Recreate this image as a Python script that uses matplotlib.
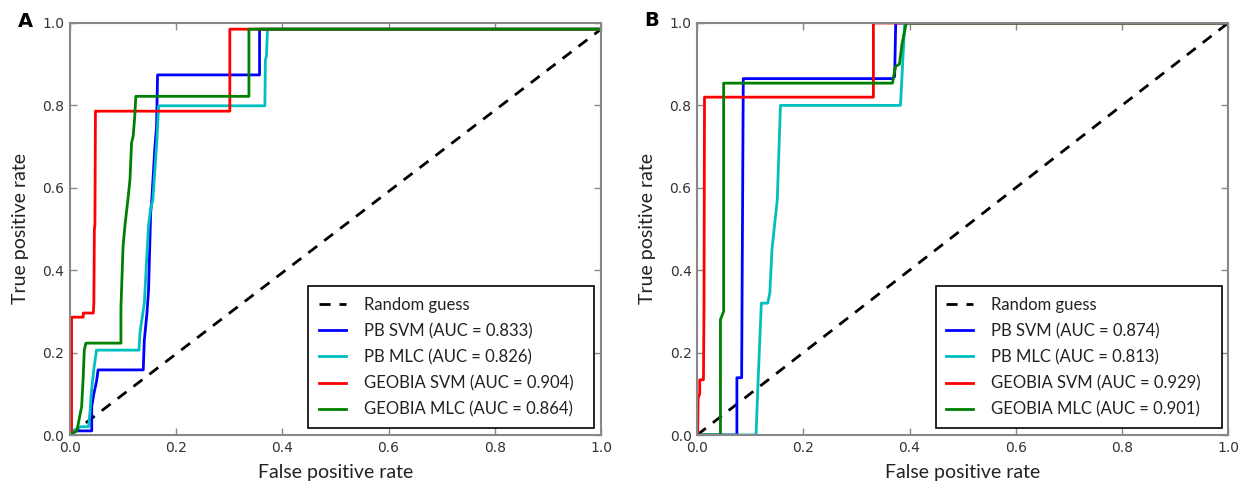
import numpy as np
import matplotlib
matplotlib.use("Agg")
import matplotlib.pyplot as plt

# ROC curves
# panel A (curves top out just under 1.0 in the original)
a_pb_svm_fpr = [0.0, 0.005, 0.041, 0.041, 0.045, 0.050, 0.053, 0.138, 0.140, 0.145, 0.148, 0.152,
                0.154, 0.160, 0.163, 0.165, 0.357, 0.357, 1.0]
a_pb_svm_tpr = [0.0, 0.010, 0.010, 0.070, 0.100, 0.130, 0.158, 0.158, 0.230, 0.296, 0.352, 0.540,
                0.570, 0.700, 0.748, 0.874, 0.874, 0.985, 0.985]

a_pb_mlc_fpr = [0.0, 0.005, 0.020, 0.035, 0.038, 0.040, 0.045, 0.050, 0.130, 0.132, 0.140, 0.148,
                0.152, 0.156, 0.163, 0.167, 0.367, 0.368, 0.370, 0.372, 1.0]
a_pb_mlc_tpr = [0.0, 0.010, 0.020, 0.020, 0.060, 0.100, 0.160, 0.206, 0.206, 0.250, 0.320, 0.510,
                0.550, 0.570, 0.700, 0.799, 0.799, 0.910, 0.920, 0.985, 0.985]

a_geo_svm_fpr = [0.0, 0.003, 0.003, 0.025, 0.025, 0.044, 0.045, 0.046, 0.047, 0.048, 0.301, 0.301, 1.0]
a_geo_svm_tpr = [0.0, 0.0, 0.286, 0.286, 0.296, 0.296, 0.320, 0.500, 0.510, 0.786, 0.786, 0.985, 0.985]

a_geo_mlc_fpr = [0.0, 0.013, 0.022, 0.025, 0.027, 0.030, 0.096, 0.096, 0.100, 0.104, 0.109, 0.113,
                 0.116, 0.119, 0.122, 0.124, 0.337, 0.337, 1.0]
a_geo_mlc_tpr = [0.0, 0.010, 0.069, 0.142, 0.206, 0.223, 0.223, 0.310, 0.458, 0.514, 0.570, 0.620,
                 0.709, 0.725, 0.773, 0.822, 0.822, 0.985, 0.985]
a_auc = [0.833, 0.826, 0.904, 0.864]
a_diag = [0.0, 0.985]

# panel B
b_pb_svm_fpr = [0.0, 0.075, 0.075, 0.084, 0.084, 0.087, 0.368, 0.372, 0.374, 1.0]
b_pb_svm_tpr = [0.0, 0.0, 0.139, 0.139, 0.160, 0.865, 0.865, 0.870, 1.0, 1.0]

b_pb_mlc_fpr = [0.0, 0.111, 0.115, 0.121, 0.128, 0.133, 0.137, 0.141, 0.151, 0.157, 0.383, 0.385, 0.391, 1.0]
b_pb_mlc_tpr = [0.0, 0.0, 0.134, 0.320, 0.320, 0.320, 0.345, 0.450, 0.571, 0.800, 0.800, 0.850, 1.0, 1.0]

b_geo_svm_fpr = [0.0, 0.001, 0.002, 0.005, 0.005, 0.012, 0.013, 0.014, 0.332, 0.332, 1.0]
b_geo_svm_tpr = [0.0, 0.0, 0.090, 0.100, 0.134, 0.134, 0.300, 0.820, 0.820, 1.0, 1.0]

b_geo_mlc_fpr = [0.0, 0.044, 0.044, 0.050, 0.050, 0.368, 0.370, 0.374, 0.381, 0.386, 0.394, 1.0]
b_geo_mlc_tpr = [0.0, 0.0, 0.280, 0.300, 0.854, 0.854, 0.870, 0.895, 0.900, 0.950, 1.0, 1.0]
b_auc = [0.874, 0.813, 0.929, 0.901]
b_diag = [0.0, 1.0]

names = ["PB SVM", "PB MLC", "GEOBIA SVM", "GEOBIA MLC"]
colors = ["#0000ff", "#00bfbf", "#ff0000", "#008000"]

plt.rcParams['font.family'] = ['DejaVu Sans']
fig = plt.figure(figsize=(12.47, 4.88), dpi=100)
axA = fig.add_axes([0.0561, 0.1086, 0.4259, 0.8443])
axB = fig.add_axes([0.5590, 0.1086, 0.4259, 0.8443])

panels = [
    (axA, [(a_pb_svm_fpr, a_pb_svm_tpr), (a_pb_mlc_fpr, a_pb_mlc_tpr),
           (a_geo_svm_fpr, a_geo_svm_tpr), (a_geo_mlc_fpr, a_geo_mlc_tpr)], a_auc, a_diag, "A"),
    (axB, [(b_pb_svm_fpr, b_pb_svm_tpr), (b_pb_mlc_fpr, b_pb_mlc_tpr),
           (b_geo_svm_fpr, b_geo_svm_tpr), (b_geo_mlc_fpr, b_geo_mlc_tpr)], b_auc, b_diag, "B"),
]

lab_font = ['Lato', 'DejaVu Sans']
pad = '\u2007'  # a little extra room on the right like the original legend box
for ax, curves, aucs, diag, letter in panels:
    ax.plot([0, 1], diag, 'k--', lw=2, dashes=(4, 3.2), label='Random guess' + pad)
    for (fx, ty), nm, c, auc in zip(curves, names, colors, aucs):
        ax.plot(fx, ty, color=c, lw=2, label='%s (AUC = %.3f)%s' % (nm, auc, pad))
    ax.set_xlim(0, 1)
    ax.set_ylim(0, 1)
    ax.set_xticks(np.arange(0, 1.01, 0.2))
    ax.set_yticks(np.arange(0, 1.01, 0.2))
    ax.tick_params(direction='in', top=True, right=True, length=5, width=1,
                   color='#888888', labelcolor='#333333', labelsize=10, pad=4)
    for sp in ax.spines.values():
        sp.set_color('#888888')
        sp.set_linewidth(1.5)
    ax.set_xlabel('False positive rate', family=lab_font, fontsize=14, color='#222222', labelpad=7)
    ax.set_ylabel('True positive rate', family=lab_font, fontsize=14, color='#222222', labelpad=10)
    leg = ax.legend(loc='lower right', prop={'family': lab_font, 'size': 12}, fancybox=False,
                    framealpha=1, edgecolor='black', handlelength=1.6, handletextpad=1.1,
                    labelspacing=0.6, borderpad=0.65, borderaxespad=0.4)
    leg.get_frame().set_linewidth(1.2)
    for t in leg.get_texts():
        t.set_color('#222222')

fig.text(0.0145, 0.955, "A", fontsize=14, fontweight='bold', ha='left', va='center')
fig.text(0.5165, 0.958, "B", fontsize=14, fontweight='bold', ha='left', va='center')

fig.savefig('out.png', dpi=100)
